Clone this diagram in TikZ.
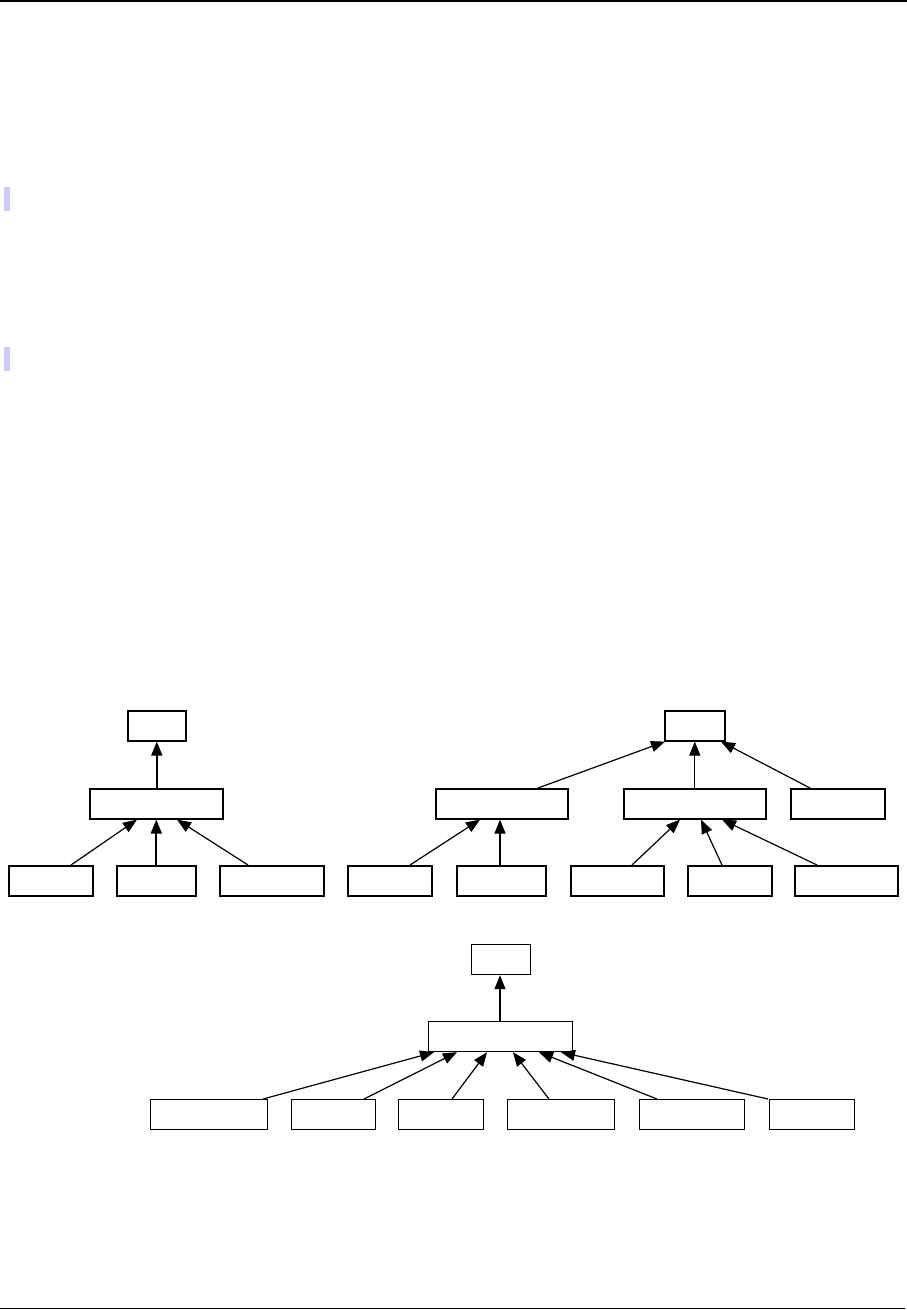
\documentclass[tikz,border=0pt]{standalone}
\usetikzlibrary{arrows.meta}
\definecolor{markblue}{HTML}{CCCCFF}
\begin{document}
\begin{tikzpicture}[x=1pt,y=-1pt,
  box/.style={draw, line width=1.6pt, minimum height=30pt, inner sep=0pt, anchor=north west},
  thinbox/.style={box, line width=1.2pt},
  arr/.style={-{Triangle[length=14pt,width=11pt]}, line width=1.2pt},
  thickarr/.style={arr, line width=1.7pt},
  rule/.style={line width=1.2pt}]
\useasboundingbox (0,0) rectangle (907,1310);
% page rules and margin marks
\coordinate (rl1) at (0,1); \coordinate (rr1) at (907,1);
\coordinate (rl2) at (0,1308.5); \coordinate (rr2) at (905,1308.5);
\draw[rule] (rl1) -- (rr1);
\draw[rule] (rl2) -- (rr2);
\fill[markblue] (4,187) rectangle (10,211);
\fill[markblue] (4,347) rectangle (10,371);

% ---------- tree 1 ----------
\node[box, minimum width=58pt] (t1top) at (127,710) {};
\node[box, minimum width=133pt] (t1mid) at (89,788) {};
\node[box, minimum width=84pt] (a1) at (8,865) {};
\node[box, minimum width=79pt] (a2) at (116,865) {};
\node[box, minimum width=104pt] (a3) at (219,865) {};
\draw[thickarr] (t1top.south |- t1mid.north) -- (t1top.south);
\draw[arr] ([xshift=63pt]a1.north west) -- ([xshift=48pt]t1mid.south west);
\draw[thickarr] (a2.north) -- (a2.north |- t1mid.south);
\draw[arr] ([xshift=29pt]a3.north west) -- ([xshift=88pt]t1mid.south west);

% ---------- tree 2 ----------
\node[box, minimum width=60pt] (t2top) at (664,710) {};
\node[box, minimum width=132pt] (mA) at (435,788) {};
\node[box, minimum width=142pt] (mB) at (623,788) {};
\node[box, minimum width=94pt] (mC) at (790,788) {};
\node[box, minimum width=84pt] (d1) at (347,865) {};
\node[box, minimum width=89pt] (d2) at (456,865) {};
\node[box, minimum width=93pt] (d3) at (570,865) {};
\node[box, minimum width=84pt] (d4) at (687,865) {};
\node[box, minimum width=103pt] (d5) at (794,865) {};
\draw[arr] ([xshift=103pt]mA.north west) -- ([xshift=1pt]t2top.south west);
\draw[arr] (mB.north) -- (mB.north |- t2top.south);
\draw[arr] ([xshift=20pt]mC.north west) -- ([xshift=57pt]t2top.south west);
\draw[arr] ([xshift=63pt]d1.north west) -- ([xshift=45pt]mA.south west);
\draw[arr] ([xshift=44pt]d2.north west) -- ([xshift=65pt]mA.south west);
\draw[arr] ([xshift=62pt]d3.north west) -- ([xshift=57pt]mB.south west);
\draw[arr] ([xshift=35pt]d4.north west) -- ([xshift=78pt]mB.south west);
\draw[arr] ([xshift=23pt]d5.north west) -- ([xshift=99pt]mB.south west);

% ---------- tree 3 ----------
\node[thinbox, minimum width=59pt] (t3top) at (471,944) {};
\node[thinbox, minimum width=144pt] (mM) at (428,1021) {};
\node[thinbox, minimum width=117pt] (e1) at (150,1099) {};
\node[thinbox, minimum width=84pt] (e2) at (291,1099) {};
\node[thinbox, minimum width=85pt] (e3) at (398,1099) {};
\node[thinbox, minimum width=107pt] (e4) at (507,1099) {};
\node[thinbox, minimum width=105pt] (e5) at (639,1099) {};
\node[thinbox, minimum width=85pt] (e6) at (769,1099) {};
\draw[arr] ([xshift=72pt]mM.north west) -- ([xshift=29pt]t3top.south west);
\draw[arr] ([xshift=113pt]e1.north west) -- ([xshift=6pt]mM.south west);
\draw[arr] ([xshift=73pt]e2.north west) -- ([xshift=29pt]mM.south west);
\draw[arr] ([xshift=54pt]e3.north west) -- ([xshift=59pt]mM.south west);
\draw[arr] ([xshift=42pt]e4.north west) -- ([xshift=85pt]mM.south west);
\draw[arr] ([xshift=18pt]e5.north west) -- ([xshift=111pt]mM.south west);
\draw[arr] ([xshift=-1pt]e6.north west) -- ([xshift=133pt]mM.south west);
\end{tikzpicture}
\end{document}
